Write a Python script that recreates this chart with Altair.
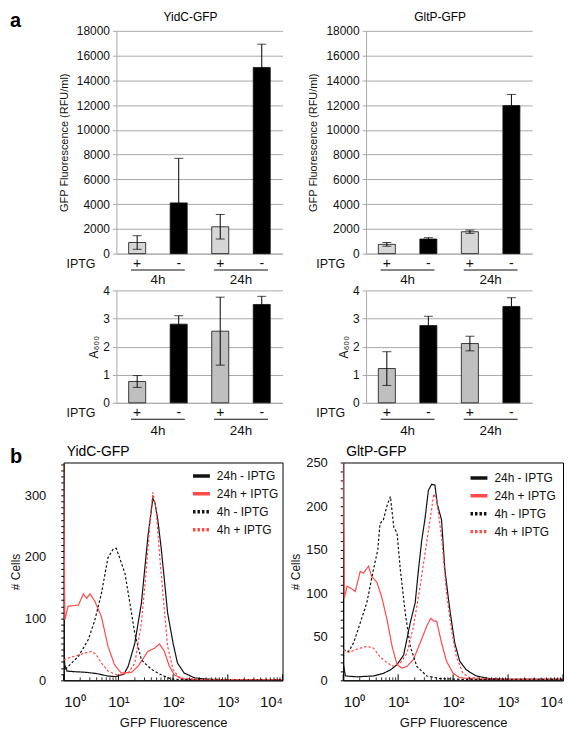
import altair as alt
import pandas as pd

FONT = "Liberation Sans"
GRID = "#a8a8a8"
INK = "#111111"

# ---------------- panel a: bar data ----------------
bar_group = ["4h", "4h", "24h", "24h"]
bar_iptg = ["+", "-", "+", "-"]
group_order = ["4h", "24h"]
iptg_order = ["+", "-"]

yidc_gfp = [900, 4100, 2170, 15040]
yidc_gfp_err = [550, 3600, 990, 1880]
gltp_gfp = [750, 1180, 1770, 11960]
gltp_gfp_err = [150, 110, 130, 900]

yidc_a600 = [0.76, 2.80, 2.55, 3.50]
yidc_a600_err = [0.21, 0.30, 1.21, 0.29]
gltp_a600 = [1.22, 2.75, 2.11, 3.43]
gltp_a600_err = [0.60, 0.33, 0.26, 0.31]

gfp_ticks = [0, 2000, 4000, 6000, 8000, 10000, 12000, 14000, 16000, 18000]
a600_ticks = [0, 1, 2, 3, 4]

# ---------------- panel b: flow cytometry histograms ----------------
series_names = ["24h - IPTG", "24h + IPTG", "4h - IPTG", "4h + IPTG"]
series_colors = ["#111111", "#ff4a4a", "#111111", "#ff4a4a"]
series_dashes = [[1, 0], [1, 0], [2.5, 2], [2.5, 2]]

# positions are log10(GFP fluorescence), values are cell counts
yidc_24m_log = [0, 0.02, 0.06, 0.2, 0.4, 0.6, 0.8, 0.95, 1.1, 1.18, 1.3, 1.42, 1.54, 1.63, 1.67, 1.72, 1.78, 1.84, 1.90, 2.0, 2.08, 2.2, 2.39, 2.6, 3.0, 3.5, 4.0]
yidc_24m_cnt = [55, 25, 15, 14, 13, 11, 7, 6, 10, 23, 60, 125, 233, 295, 287, 260, 216, 163, 109, 60, 28, 12, 4, 2, 1, 1, 1]
yidc_24p_log = [0, 0.02, 0.08, 0.27, 0.36, 0.42, 0.48, 0.57, 0.69, 0.81, 0.93, 1.05, 1.24, 1.36, 1.54, 1.66, 1.75, 1.84, 1.93, 2.02, 2.18, 2.5, 3.0, 3.5, 4.0]
yidc_24p_cnt = [353, 98, 120, 122, 140, 133, 140, 128, 103, 55, 25, 12, 13, 23, 47, 52, 59, 47, 23, 9, 2, 1, 1, 1, 1]
yidc_4m_log = [0, 0.02, 0.27, 0.45, 0.57, 0.69, 0.81, 0.90, 0.96, 1.02, 1.12, 1.21, 1.30, 1.42, 1.60, 1.78, 1.96, 2.3, 3.0, 4.0]
yidc_4m_cnt = [30, 17, 39, 66, 98, 141, 199, 212, 214, 199, 173, 125, 76, 33, 18, 9, 2, 1, 1, 1]
yidc_4p_log = [0, 0.08, 0.27, 0.42, 0.51, 0.60, 0.69, 0.81, 1.0, 1.18, 1.30, 1.42, 1.51, 1.59, 1.63, 1.69, 1.75, 1.84, 1.90, 2.0, 2.12, 2.5, 3.0, 4.0]
yidc_4p_cnt = [33, 36, 41, 45, 47, 41, 28, 15, 8, 12, 28, 93, 179, 270, 305, 276, 206, 114, 55, 17, 4, 1, 1, 1]

gltp_24m_log = [0, 0.04, 0.25, 0.55, 0.73, 0.86, 0.98, 1.10, 1.22, 1.31, 1.37, 1.43, 1.49, 1.55, 1.61, 1.67, 1.71, 1.79, 1.85, 1.94, 2.03, 2.12, 2.24, 2.42, 2.66, 3.0, 4.0]
gltp_24m_cnt = [20, 5, 4, 5, 8, 12, 18, 29, 66, 89, 127, 161, 186, 218, 225, 224, 203, 184, 127, 81, 43, 22, 12, 5, 2, 1, 1]
gltp_24p_log = [0, 0.02, 0.07, 0.13, 0.22, 0.31, 0.37, 0.46, 0.52, 0.61, 0.70, 0.80, 0.89, 0.98, 1.07, 1.16, 1.28, 1.40, 1.52, 1.59, 1.65, 1.70, 1.79, 1.88, 2.0, 2.12, 2.5, 3.0, 4.0]
gltp_24p_cnt = [250, 94, 108, 106, 102, 125, 123, 131, 119, 113, 96, 69, 39, 18, 14, 16, 24, 43, 62, 71, 68, 68, 43, 22, 8, 3, 1, 1, 1]
gltp_4m_log = [0, 0.1, 0.19, 0.31, 0.43, 0.55, 0.63, 0.67, 0.73, 0.80, 0.86, 0.92, 0.98, 1.04, 1.13, 1.22, 1.34, 1.52, 1.76, 2.2, 3.0, 4.0]
gltp_4m_cnt = [35, 33, 43, 66, 89, 127, 150, 180, 184, 201, 211, 176, 169, 127, 77, 39, 16, 5, 2, 1, 1, 1]
gltp_4p_log = [0, 0.1, 0.22, 0.31, 0.43, 0.55, 0.67, 0.80, 0.92, 1.04, 1.16, 1.28, 1.40, 1.49, 1.58, 1.65, 1.70, 1.79, 1.88, 1.97, 2.06, 2.18, 2.30, 3.0, 4.0]
gltp_4p_cnt = [35, 32, 35, 37, 39, 37, 27, 20, 16, 20, 31, 62, 108, 146, 184, 214, 207, 165, 100, 58, 27, 8, 3, 1, 1]

x_major_ticks = [1, 10, 100, 1000, 10000]
x_minor_ticks = [m * 10 ** k for k in range(4) for m in range(2, 10)]
x_label_expr = ("datum.value == 1 ? '10\u2070' : datum.value == 10 ? '10\u00b9' : "
                "datum.value == 100 ? '10\u00b2' : datum.value == 1000 ? '10\u00b3' : "
                "datum.value == 10000 ? '10\u2074' : ''")


def label_layer(text, size, x, y, align="left", weight="normal"):
    return alt.Chart(pd.DataFrame({"t": [text]})).mark_text(
        fontSize=size, fontWeight=weight, align=align, baseline="alphabetic", color="#000000"
    ).encode(text="t:N", x=alt.value(x), y=alt.value(y))


def bar_panel(values, errs, ymax, yticks, ytitle, title_text, height, gray,
              grp_pad, ytitle_pad, ytitle_size):
    df = pd.DataFrame({"group": bar_group, "iptg": bar_iptg, "value": values, "err": errs})
    df["lo"] = df["value"] - df["err"]
    df["hi"] = df["value"] + df["err"]
    df["fill"] = [gray if s == "+" else "#000000" for s in bar_iptg]
    base = alt.Chart(df)
    xscale = alt.Scale(domain=group_order, paddingInner=0.295, paddingOuter=0.1475)
    oscale = alt.Scale(domain=iptg_order, paddingInner=0.59, paddingOuter=0)
    yscale = alt.Scale(domain=[0, ymax], nice=False)
    xaxis = alt.Axis(labelAngle=0, ticks=False, tickSize=0, labelPadding=grp_pad,
                     labelFontSize=13.5, labelColor=INK, domainColor=GRID, domainWidth=1, title=None)
    yaxis = alt.Axis(values=yticks, format="d", title=ytitle, grid=True, gridColor=GRID,
                     domainColor=GRID, tickColor=GRID, tickSize=4, labelPadding=3,
                     labelFontSize=12, labelColor=INK, titleFontSize=ytitle_size,
                     titleFontWeight="normal", titlePadding=ytitle_pad, titleColor=INK)
    X = alt.X("group:N", scale=xscale, axis=xaxis)
    xo = alt.XOffset("iptg:N", scale=oscale)

    def Y(field):
        return alt.Y(field, type="quantitative", scale=yscale, axis=yaxis)

    bars = base.mark_bar(stroke=INK, strokeWidth=0.8).encode(
        x=X, xOffset=xo, y=Y("value"), color=alt.Color("fill:N", scale=None))
    err = base.mark_rule(color="#000000", strokeWidth=1).encode(
        x=X, xOffset=xo, y=Y("lo"), y2="hi:Q")
    cap_hi = base.mark_tick(color="#000000", thickness=1, size=9, orient="horizontal").encode(
        x=X, xOffset=xo, y=Y("hi"))
    cap_lo = base.mark_tick(color="#000000", thickness=1, size=9, orient="horizontal").encode(
        x=X, xOffset=xo, y=Y("lo"))
    pm = base.mark_text(fontSize=14, color=INK, baseline="middle").encode(
        x=X, xOffset=xo, text="iptg:N", y=alt.value(height + 10))
    under = alt.Chart(pd.DataFrame({"group": group_order})).mark_bar(
        color=INK, width=alt.RelativeBandSize(0.92)).encode(
        x=X, y=alt.value(height + 16), y2=alt.value(height + 17))
    iptg_lbl = alt.Chart(pd.DataFrame({"t": ["IPTG"]})).mark_text(
        fontSize=12.5, align="right", baseline="middle", color=INK).encode(
        text="t:N", x=alt.value(-21), y=alt.value(height + 10))
    layers = [bars, err, cap_hi, cap_lo, pm, under, iptg_lbl]
    if title_text:
        layers.append(label_layer(title_text, 12, 167 / 2 - 9, -10, align="center"))
    return alt.layer(*layers).properties(width=167, height=height)


def hist_panel(curves, ymax, label_every, title_text, legend_xy, width,
               ylab_pad, ytitle_pad, letter=False):
    H = 219
    rows = []
    for name, (logs, cnts) in zip(series_names, curves):
        for i, (lx, c) in enumerate(zip(logs, cnts)):
            rows.append({"series": name, "x": 10 ** lx, "count": c, "i": i})
    df = pd.DataFrame(rows)
    xenc = alt.X("x:Q", scale=alt.Scale(type="log", domain=[1, 10000]),
                 axis=alt.Axis(values=x_major_ticks, labelExpr=x_label_expr, title="GFP Fluorescence",
                               grid=False, ticks=False, tickSize=0, domainColor="#000000",
                               labelFlush=True, labelOverlap=False, labelPadding=14, labelFontSize=15,
                               labelColor=INK, titleFontSize=13, titleFontWeight="normal",
                               titlePadding=7, titleColor=INK))
    yenc = alt.Y("count:Q", scale=alt.Scale(domain=[0, ymax], nice=False),
                 axis=alt.Axis(values=list(range(0, ymax + 1, 10)),
                               labelExpr=f"datum.value % {label_every} == 0 ? datum.label : ''",
                               title="# Cells", grid=False, tickSize=3, tickColor="#000000",
                               domainColor="#000000", labelOverlap=False, labelFontSize=13,
                               labelPadding=ylab_pad, labelColor=INK, titleFontSize=12,
                               titleFontWeight="normal", titlePadding=ytitle_pad, titleColor=INK))
    leg = alt.Legend(title=None, orient="none", legendX=legend_xy[0], legendY=legend_xy[1],
                     symbolType="stroke", symbolSize=289, symbolStrokeWidth=3.5,
                     labelFontSize=12, labelColor=INK, labelOffset=5, rowPadding=-1, padding=0)
    line = alt.Chart(df).mark_line(clip=True, strokeWidth=1.2).encode(
        x=xenc, y=yenc,
        color=alt.Color("series:N", scale=alt.Scale(domain=series_names, range=series_colors), legend=leg),
        strokeDash=alt.StrokeDash("series:N", scale=alt.Scale(domain=series_names, range=series_dashes), legend=leg),
        order=alt.Order("i:Q"),
    )
    major = alt.Chart(pd.DataFrame({"x": x_major_ticks})).mark_rule(color="#000000", strokeWidth=1).encode(
        x=xenc, y=alt.value(H), y2=alt.value(H - 6))
    minor = alt.Chart(pd.DataFrame({"x": x_minor_ticks})).mark_rule(color="#000000", strokeWidth=0.8).encode(
        x=xenc, y=alt.value(H), y2=alt.value(H - 3))
    layers = [line, major, minor, label_layer(title_text, 14, 3, -7)]
    if letter:
        layers.append(label_layer("b", 20, -54, 0, weight="bold"))
    return alt.layer(*layers).properties(
        width=width, height=H,
        view=alt.ViewBackground(stroke="#000000", strokeWidth=1),
    )


tl = bar_panel(yidc_gfp, yidc_gfp_err, 18000, gfp_ticks, "GFP Fluorescence (RFU/ml)", "YidC-GFP",
               224, "#d6d6d6", 19, 7, 11)
tr = bar_panel(gltp_gfp, gltp_gfp_err, 18000, gfp_ticks, "GFP Fluorescence (RFU/ml)", "GltP-GFP",
               224, "#d6d6d6", 19, 7, 11)
ml = bar_panel(yidc_a600, yidc_a600_err, 4, a600_ticks, "A\u2086\u2080\u2080", None,
               113, "#bfbfbf", 21, 2, 12)
mr = bar_panel(gltp_a600, gltp_a600_err, 4, a600_ticks, "A\u2086\u2080\u2080", None,
               113, "#bfbfbf", 21, 2, 12)

hl = hist_panel([(yidc_24m_log, yidc_24m_cnt), (yidc_24p_log, yidc_24p_cnt),
                 (yidc_4m_log, yidc_4m_cnt), (yidc_4p_log, yidc_4p_cnt)],
                353, 100, "YidC-GFP", (128, 3), 220, 15, 2, letter=True)
hr = hist_panel([(gltp_24m_log, gltp_24m_cnt), (gltp_24p_log, gltp_24p_cnt),
                 (gltp_4m_log, gltp_4m_cnt), (gltp_4p_log, gltp_4p_cnt)],
                250, 50, "GltP-GFP", (126, 5), 221, 13, 3)

# panel letter "a" lives in a narrow spacer column that shifts the bar panels right
spacer = label_layer("a", 20, -54, -4, weight="bold").properties(width=53, height=224)

top = alt.concat(tl, tr, ml, mr, columns=2, spacing={"row": 37, "column": 84}, bounds="flush")
row1 = alt.hconcat(spacer, top, spacing=0, bounds="flush")
bottom = alt.hconcat(hl, hr, spacing=61, bounds="flush").resolve_scale(
    color="independent", strokeDash="independent")

chart = alt.vconcat(row1, bottom, spacing=6, bounds="full").resolve_scale(
    color="independent", strokeDash="independent").properties(
    padding=0
).configure(font=FONT).configure_view(stroke="transparent")

chart.save("out.html", embed_options={"renderer": "svg", "actions": False})
